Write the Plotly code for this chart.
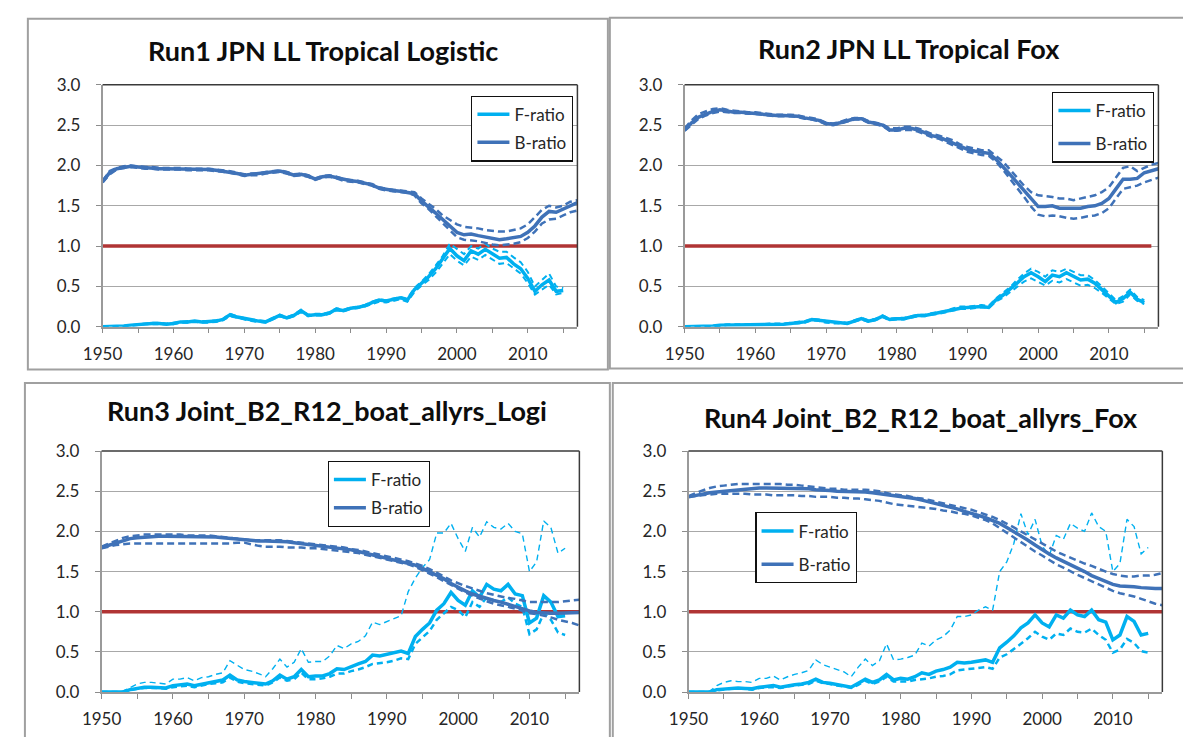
import plotly.graph_objects as go

# ---------------- data ----------------
YEARS_F = list(range(1950, 2016))
YEARS_B = list(range(1950, 2018))
YEARS_REF2 = list(range(1950, 2017))
REF_LEVEL = 1.0

TITLES = ["Run1 JPN LL Tropical Logistic", "Run2 JPN LL Tropical Fox",
          "Run3 Joint_B2_R12_boat_allyrs_Logi", "Run4 Joint_B2_R12_boat_allyrs_Fox"]
X_TICKS = [1950, 1960, 1970, 1980, 1990, 2000, 2010]
Y_TICKS = [0.0, 0.5, 1.0, 1.5, 2.0, 2.5, 3.0]

# ---- Run1 ----
F1_MID = [0.00, 0.00, 0.00, 0.01, 0.02, 0.03, 0.04, 0.04, 0.04, 0.03,
          0.04, 0.06, 0.06, 0.07, 0.06, 0.06, 0.07, 0.09, 0.15, 0.12,
          0.10, 0.08, 0.07, 0.06, 0.10, 0.14, 0.11, 0.14, 0.20, 0.14,
          0.15, 0.15, 0.17, 0.22, 0.20, 0.23, 0.24, 0.26, 0.30, 0.33,
          0.32, 0.34, 0.36, 0.33, 0.46, 0.54, 0.62, 0.72, 0.84, 0.97,
          0.88, 0.82, 0.94, 0.90, 0.96, 0.90, 0.85, 0.86, 0.78, 0.72,
          0.60, 0.44, 0.52, 0.58, 0.44, 0.45]
F1_HI = [0.00, 0.00, 0.00, 0.01, 0.02, 0.03, 0.04, 0.05, 0.05, 0.04,
         0.05, 0.06, 0.07, 0.07, 0.07, 0.07, 0.08, 0.10, 0.16, 0.13,
         0.11, 0.09, 0.08, 0.07, 0.11, 0.15, 0.12, 0.15, 0.21, 0.15,
         0.16, 0.16, 0.18, 0.23, 0.21, 0.24, 0.25, 0.27, 0.31, 0.34,
         0.33, 0.35, 0.37, 0.35, 0.48, 0.56, 0.65, 0.76, 0.88, 1.03,
         0.96, 0.90, 1.00, 0.97, 1.03, 0.97, 0.93, 0.93, 0.86, 0.80,
         0.68, 0.50, 0.58, 0.66, 0.50, 0.48]
F1_LO = [0.00, 0.00, 0.00, 0.00, 0.01, 0.02, 0.03, 0.03, 0.03, 0.03,
         0.03, 0.05, 0.05, 0.06, 0.05, 0.05, 0.06, 0.08, 0.13, 0.11,
         0.09, 0.07, 0.06, 0.05, 0.09, 0.13, 0.10, 0.13, 0.18, 0.13,
         0.14, 0.14, 0.16, 0.20, 0.19, 0.22, 0.23, 0.25, 0.28, 0.31,
         0.30, 0.32, 0.34, 0.31, 0.43, 0.51, 0.58, 0.67, 0.78, 0.90,
         0.82, 0.76, 0.87, 0.83, 0.89, 0.83, 0.78, 0.79, 0.72, 0.66,
         0.54, 0.40, 0.46, 0.52, 0.40, 0.42]
B1_MID = [1.80, 1.91, 1.96, 1.98, 1.99, 1.98, 1.97, 1.97, 1.96, 1.96,
          1.96, 1.96, 1.95, 1.95, 1.95, 1.95, 1.94, 1.93, 1.92, 1.90,
          1.88, 1.89, 1.89, 1.91, 1.92, 1.93, 1.91, 1.88, 1.89, 1.87,
          1.83, 1.86, 1.87, 1.85, 1.82, 1.81, 1.80, 1.78, 1.76, 1.72,
          1.70, 1.69, 1.68, 1.67, 1.65, 1.56, 1.49, 1.41, 1.33, 1.25,
          1.17, 1.14, 1.15, 1.13, 1.11, 1.09, 1.08, 1.09, 1.10, 1.12,
          1.17, 1.25, 1.36, 1.43, 1.42, 1.46, 1.51, 1.54]
B1_HI = [1.81, 1.93, 1.97, 1.99, 2.00, 1.99, 1.98, 1.98, 1.97, 1.97,
         1.97, 1.97, 1.96, 1.96, 1.96, 1.96, 1.95, 1.94, 1.93, 1.91,
         1.89, 1.90, 1.90, 1.92, 1.93, 1.94, 1.92, 1.89, 1.90, 1.88,
         1.84, 1.87, 1.88, 1.86, 1.83, 1.82, 1.81, 1.79, 1.77, 1.73,
         1.71, 1.70, 1.69, 1.68, 1.67, 1.59, 1.53, 1.46, 1.38, 1.32,
         1.27, 1.24, 1.23, 1.22, 1.20, 1.19, 1.18, 1.18, 1.20, 1.22,
         1.27, 1.36, 1.45, 1.50, 1.48, 1.50, 1.55, 1.57]
B1_LO = [1.79, 1.89, 1.95, 1.97, 1.98, 1.97, 1.96, 1.96, 1.95, 1.95,
         1.95, 1.95, 1.94, 1.94, 1.94, 1.94, 1.93, 1.92, 1.91, 1.89,
         1.87, 1.88, 1.88, 1.90, 1.91, 1.92, 1.90, 1.87, 1.88, 1.86,
         1.82, 1.85, 1.86, 1.84, 1.81, 1.80, 1.79, 1.77, 1.75, 1.71,
         1.69, 1.68, 1.67, 1.66, 1.63, 1.53, 1.46, 1.37, 1.28, 1.19,
         1.11, 1.08, 1.07, 1.06, 1.04, 1.02, 1.01, 1.02, 1.03, 1.05,
         1.10, 1.18, 1.28, 1.33, 1.34, 1.38, 1.42, 1.44]

# ---- Run2 ----
F2_MID = [0.00, 0.00, 0.00, 0.00, 0.01, 0.02, 0.02, 0.02, 0.02, 0.02,
          0.02, 0.03, 0.03, 0.03, 0.03, 0.04, 0.05, 0.06, 0.09, 0.08,
          0.06, 0.05, 0.05, 0.04, 0.07, 0.10, 0.07, 0.09, 0.13, 0.09,
          0.10, 0.10, 0.12, 0.14, 0.14, 0.16, 0.17, 0.19, 0.22, 0.23,
          0.24, 0.25, 0.25, 0.24, 0.33, 0.39, 0.46, 0.54, 0.62, 0.67,
          0.62, 0.56, 0.64, 0.62, 0.67, 0.62, 0.58, 0.59, 0.54, 0.46,
          0.38, 0.30, 0.35, 0.43, 0.34, 0.30]
F2_HI = [0.00, 0.00, 0.00, 0.01, 0.01, 0.02, 0.03, 0.03, 0.03, 0.03,
         0.03, 0.03, 0.04, 0.04, 0.04, 0.05, 0.06, 0.07, 0.10, 0.09,
         0.07, 0.06, 0.06, 0.05, 0.08, 0.11, 0.08, 0.10, 0.14, 0.10,
         0.11, 0.11, 0.13, 0.15, 0.15, 0.17, 0.18, 0.20, 0.23, 0.25,
         0.25, 0.26, 0.27, 0.26, 0.35, 0.42, 0.49, 0.58, 0.66, 0.72,
         0.68, 0.62, 0.70, 0.68, 0.72, 0.68, 0.64, 0.64, 0.58, 0.50,
         0.41, 0.33, 0.38, 0.46, 0.37, 0.33]
F2_LO = [0.00, 0.00, 0.00, 0.00, 0.00, 0.01, 0.02, 0.02, 0.02, 0.02,
         0.02, 0.02, 0.03, 0.03, 0.03, 0.04, 0.04, 0.05, 0.08, 0.07,
         0.05, 0.04, 0.04, 0.04, 0.06, 0.09, 0.06, 0.08, 0.12, 0.08,
         0.09, 0.09, 0.11, 0.13, 0.13, 0.15, 0.16, 0.18, 0.20, 0.22,
         0.22, 0.23, 0.24, 0.23, 0.31, 0.36, 0.43, 0.50, 0.56, 0.60,
         0.56, 0.51, 0.57, 0.55, 0.59, 0.55, 0.51, 0.52, 0.48, 0.42,
         0.35, 0.28, 0.31, 0.40, 0.32, 0.28]
B2_MID = [2.44, 2.53, 2.60, 2.64, 2.67, 2.69, 2.67, 2.66, 2.66, 2.65,
          2.65, 2.64, 2.63, 2.62, 2.62, 2.62, 2.61, 2.59, 2.58, 2.56,
          2.52, 2.51, 2.53, 2.56, 2.58, 2.58, 2.54, 2.52, 2.50, 2.44,
          2.44, 2.46, 2.46, 2.44, 2.40, 2.37, 2.35, 2.31, 2.28, 2.23,
          2.20, 2.18, 2.16, 2.15, 2.08, 1.99, 1.89, 1.79, 1.69, 1.59,
          1.49, 1.49, 1.50, 1.47, 1.47, 1.46, 1.47, 1.49, 1.50, 1.53,
          1.59, 1.71, 1.83, 1.83, 1.84, 1.91, 1.94, 1.96]
B2_HI = [2.46, 2.56, 2.64, 2.67, 2.70, 2.71, 2.69, 2.68, 2.67, 2.66,
         2.66, 2.65, 2.64, 2.63, 2.63, 2.63, 2.62, 2.60, 2.59, 2.57,
         2.53, 2.52, 2.54, 2.57, 2.59, 2.59, 2.55, 2.53, 2.51, 2.46,
         2.46, 2.48, 2.48, 2.46, 2.42, 2.39, 2.37, 2.34, 2.31, 2.26,
         2.23, 2.21, 2.19, 2.19, 2.12, 2.05, 1.95, 1.85, 1.75, 1.67,
         1.63, 1.62, 1.61, 1.59, 1.59, 1.57, 1.59, 1.61, 1.63, 1.67,
         1.73, 1.85, 1.97, 1.99, 1.93, 1.97, 2.01, 2.03]
B2_LO = [2.43, 2.51, 2.58, 2.62, 2.65, 2.67, 2.66, 2.65, 2.65, 2.64,
         2.64, 2.63, 2.62, 2.61, 2.61, 2.61, 2.60, 2.58, 2.57, 2.55,
         2.51, 2.50, 2.52, 2.55, 2.57, 2.57, 2.53, 2.51, 2.49, 2.43,
         2.43, 2.44, 2.44, 2.42, 2.38, 2.35, 2.33, 2.29, 2.25, 2.20,
         2.17, 2.15, 2.13, 2.12, 2.05, 1.95, 1.84, 1.73, 1.61, 1.49,
         1.39, 1.37, 1.38, 1.37, 1.35, 1.34, 1.35, 1.37, 1.38, 1.41,
         1.47, 1.59, 1.71, 1.73, 1.75, 1.79, 1.82, 1.85]

# ---- Run3 ----
F3_MID = [0.00, 0.00, 0.00, 0.00, 0.03, 0.05, 0.06, 0.06, 0.06, 0.05,
          0.08, 0.09, 0.10, 0.08, 0.10, 0.12, 0.13, 0.15, 0.21, 0.15,
          0.13, 0.12, 0.11, 0.10, 0.14, 0.21, 0.16, 0.19, 0.28, 0.19,
          0.20, 0.20, 0.23, 0.29, 0.28, 0.32, 0.35, 0.38, 0.46, 0.45,
          0.47, 0.49, 0.51, 0.48, 0.69, 0.78, 0.86, 1.02, 1.10, 1.24,
          1.14, 1.08, 1.26, 1.18, 1.34, 1.28, 1.26, 1.34, 1.22, 1.20,
          0.86, 0.92, 1.20, 1.12, 0.94, 0.95]
F3_HI = [0.00, 0.00, 0.00, 0.01, 0.06, 0.10, 0.12, 0.12, 0.11, 0.10,
         0.16, 0.16, 0.18, 0.14, 0.18, 0.19, 0.22, 0.24, 0.39, 0.33,
         0.28, 0.26, 0.23, 0.19, 0.29, 0.41, 0.31, 0.37, 0.54, 0.37,
         0.38, 0.38, 0.45, 0.58, 0.54, 0.60, 0.63, 0.70, 0.87, 0.84,
         0.88, 0.92, 0.95, 1.25, 1.42, 1.55, 1.65, 1.98, 1.98, 2.10,
         1.91, 1.75, 2.05, 1.93, 2.12, 2.05, 2.03, 2.10, 2.00, 1.97,
         1.50, 1.62, 2.13, 2.05, 1.73, 1.79]
F3_LO = [0.00, 0.00, 0.00, 0.00, 0.02, 0.04, 0.05, 0.05, 0.05, 0.04,
         0.06, 0.07, 0.08, 0.06, 0.08, 0.10, 0.11, 0.12, 0.18, 0.13,
         0.11, 0.10, 0.09, 0.08, 0.12, 0.18, 0.14, 0.16, 0.24, 0.16,
         0.16, 0.17, 0.19, 0.23, 0.23, 0.26, 0.28, 0.31, 0.35, 0.36,
         0.37, 0.39, 0.42, 0.41, 0.60, 0.68, 0.76, 0.90, 0.98, 1.06,
         1.02, 0.93, 1.12, 1.06, 1.18, 1.14, 1.12, 1.18, 1.10, 1.06,
         0.72, 0.78, 0.98, 0.90, 0.74, 0.71]
B3_MID = [1.80, 1.83, 1.86, 1.89, 1.91, 1.92, 1.93, 1.93, 1.94, 1.94,
          1.94, 1.94, 1.94, 1.94, 1.93, 1.93, 1.93, 1.92, 1.91, 1.90,
          1.89, 1.88, 1.88, 1.88, 1.88, 1.88, 1.87, 1.86, 1.85, 1.84,
          1.83, 1.82, 1.81, 1.80, 1.79, 1.77, 1.75, 1.73, 1.71, 1.69,
          1.67, 1.65, 1.63, 1.61, 1.58, 1.54, 1.50, 1.46, 1.41, 1.35,
          1.30, 1.26, 1.22, 1.19, 1.16, 1.14, 1.12, 1.09, 1.06, 1.03,
          1.01, 0.99, 0.98, 0.98, 0.98, 0.98, 0.99, 0.99]
B3_HI = [1.81, 1.85, 1.89, 1.92, 1.94, 1.95, 1.96, 1.96, 1.96, 1.96,
         1.96, 1.96, 1.95, 1.95, 1.95, 1.95, 1.94, 1.93, 1.92, 1.91,
         1.90, 1.89, 1.89, 1.89, 1.89, 1.89, 1.88, 1.87, 1.86, 1.85,
         1.84, 1.83, 1.82, 1.81, 1.80, 1.78, 1.77, 1.75, 1.73, 1.71,
         1.69, 1.67, 1.65, 1.63, 1.60, 1.57, 1.53, 1.49, 1.44, 1.39,
         1.35, 1.32, 1.29, 1.26, 1.23, 1.21, 1.19, 1.17, 1.16, 1.14,
         1.12, 1.12, 1.12, 1.12, 1.12, 1.13, 1.14, 1.15]
B3_LO = [1.79, 1.81, 1.83, 1.84, 1.85, 1.85, 1.85, 1.85, 1.85, 1.85,
         1.85, 1.85, 1.85, 1.85, 1.85, 1.85, 1.85, 1.85, 1.85, 1.86,
         1.86, 1.84, 1.82, 1.81, 1.81, 1.81, 1.80, 1.80, 1.80, 1.79,
         1.79, 1.78, 1.77, 1.76, 1.75, 1.74, 1.73, 1.71, 1.69, 1.67,
         1.65, 1.63, 1.61, 1.59, 1.56, 1.52, 1.48, 1.43, 1.38, 1.33,
         1.28, 1.24, 1.20, 1.16, 1.13, 1.10, 1.08, 1.06, 1.04, 1.01,
         0.98, 0.97, 0.95, 0.93, 0.90, 0.88, 0.86, 0.83]

# ---- Run4 ----
F4_MID = [0.00, 0.00, 0.00, 0.00, 0.03, 0.04, 0.05, 0.05, 0.045, 0.04,
          0.06, 0.07, 0.08, 0.06, 0.08, 0.09, 0.10, 0.12, 0.16, 0.12,
          0.11, 0.09, 0.08, 0.06, 0.11, 0.16, 0.12, 0.15, 0.22, 0.15,
          0.17, 0.16, 0.19, 0.24, 0.22, 0.26, 0.28, 0.31, 0.37, 0.36,
          0.37, 0.39, 0.40, 0.37, 0.55, 0.62, 0.70, 0.80, 0.86, 0.96,
          0.86, 0.81, 0.96, 0.92, 1.02, 0.96, 0.94, 1.02, 0.90, 0.87,
          0.65, 0.71, 0.94, 0.88, 0.71, 0.73]
F4_HI = [0.00, 0.00, 0.00, 0.01, 0.08, 0.12, 0.14, 0.13, 0.13, 0.12,
         0.17, 0.17, 0.20, 0.15, 0.19, 0.22, 0.24, 0.27, 0.40, 0.34,
         0.31, 0.28, 0.25, 0.19, 0.31, 0.41, 0.33, 0.39, 0.60, 0.40,
         0.41, 0.43, 0.46, 0.61, 0.57, 0.65, 0.69, 0.77, 0.94, 0.94,
         0.96, 1.02, 1.06, 1.02, 1.50, 1.62, 1.85, 2.22, 1.96, 2.15,
         1.82, 1.70, 1.95, 1.90, 2.10, 2.04, 2.00, 2.23, 2.06, 2.00,
         1.50, 1.60, 2.15, 2.06, 1.72, 1.80]
F4_LO = [0.00, 0.00, 0.00, 0.00, 0.02, 0.03, 0.04, 0.04, 0.04, 0.03,
         0.05, 0.06, 0.06, 0.05, 0.07, 0.08, 0.09, 0.10, 0.14, 0.11,
         0.10, 0.08, 0.07, 0.05, 0.09, 0.14, 0.10, 0.13, 0.19, 0.13,
         0.13, 0.13, 0.15, 0.16, 0.17, 0.19, 0.20, 0.22, 0.27, 0.28,
         0.29, 0.30, 0.31, 0.29, 0.43, 0.47, 0.53, 0.60, 0.67, 0.75,
         0.69, 0.65, 0.73, 0.71, 0.79, 0.75, 0.74, 0.79, 0.71, 0.65,
         0.49, 0.53, 0.66, 0.61, 0.51, 0.49]
B4_MID = [2.43, 2.45, 2.47, 2.48, 2.49, 2.50, 2.51, 2.52, 2.53, 2.53,
          2.54, 2.54, 2.54, 2.54, 2.54, 2.54, 2.53, 2.53, 2.52, 2.52,
          2.51, 2.50, 2.50, 2.50, 2.49, 2.49, 2.48, 2.47, 2.46, 2.45,
          2.44, 2.42, 2.41, 2.39, 2.37, 2.35, 2.33, 2.30, 2.28, 2.25,
          2.23, 2.20, 2.17, 2.14, 2.10, 2.05, 2.00, 1.95, 1.89, 1.83,
          1.77, 1.72, 1.67, 1.63, 1.58, 1.54, 1.50, 1.45, 1.41, 1.37,
          1.34, 1.32, 1.32, 1.31, 1.30, 1.29, 1.29, 1.29]
B4_HI = [2.44, 2.48, 2.51, 2.54, 2.56, 2.57, 2.58, 2.59, 2.59, 2.59,
         2.59, 2.59, 2.59, 2.59, 2.58, 2.58, 2.57, 2.56, 2.55, 2.54,
         2.53, 2.53, 2.52, 2.52, 2.52, 2.52, 2.51, 2.50, 2.48, 2.46,
         2.45, 2.44, 2.42, 2.41, 2.39, 2.37, 2.35, 2.33, 2.31, 2.29,
         2.27, 2.24, 2.21, 2.18, 2.14, 2.10, 2.05, 2.00, 1.95, 1.89,
         1.84, 1.79, 1.75, 1.71, 1.67, 1.64, 1.60, 1.57, 1.53, 1.50,
         1.47, 1.45, 1.44, 1.44, 1.45, 1.45, 1.46, 1.48]
B4_LO = [2.43, 2.44, 2.45, 2.46, 2.47, 2.47, 2.47, 2.47, 2.47, 2.46,
         2.46, 2.46, 2.45, 2.45, 2.45, 2.45, 2.44, 2.44, 2.43, 2.43,
         2.43, 2.42, 2.42, 2.41, 2.41, 2.40, 2.39, 2.38, 2.36, 2.34,
         2.33, 2.32, 2.31, 2.30, 2.29, 2.28, 2.26, 2.25, 2.23, 2.22,
         2.20, 2.17, 2.14, 2.10, 2.04, 1.98, 1.92, 1.86, 1.80, 1.75,
         1.70, 1.64, 1.59, 1.55, 1.50, 1.46, 1.42, 1.38, 1.33, 1.29,
         1.26, 1.23, 1.21, 1.19, 1.16, 1.13, 1.10, 1.08]

F_MID = [F1_MID, F2_MID, F3_MID, F4_MID]
F_HI = [F1_HI, F2_HI, F3_HI, F4_HI]
F_LO = [F1_LO, F2_LO, F3_LO, F4_LO]
B_MID = [B1_MID, B2_MID, B3_MID, B4_MID]
B_HI = [B1_HI, B2_HI, B3_HI, B4_HI]
B_LO = [B1_LO, B2_LO, B3_LO, B4_LO]
REF_YEARS = [YEARS_B, YEARS_REF2, YEARS_B, YEARS_B]

# ---------------- styling / layout ----------------
W, H = 1183, 737
F_COL = "#00B0F0"
B_COL = "#3F72B8"
R_COL = "#B03434"
FONT = "Lato"

# plot-area pixel boxes (left, right, top, bottom)
PLOT_PX = [(84, 567, 76, 325), (676, 1158, 76, 325),
           (83, 569, 453, 701), (680, 1162, 453, 701)]
TITLE_PX = [(308, 41), (904, 39), (312, 411), (917, 418)]
LEGEND_PX = [(459, 87, 3), (1050, 83, 8), (313, 463, 3), (748, 516, 8)]
FRAME_PX = [(8, 598, 8, 369), (600, 1200, 7, 368),
            (5, 600, 383, 760), (603, 1200, 383, 760)]
F_HI_W = [2.0, 2.0, 1.4, 1.4]
F_LO_W = [2.0, 2.0, 2.5, 2.5]

fig = go.Figure()
layout = dict(width=W, height=H, margin=dict(l=0, r=0, t=0, b=0),
              paper_bgcolor="white", plot_bgcolor="white",
              font=dict(family=FONT, color="#262626"),
              shapes=[], annotations=[])

for i in range(4):
    n = i + 1
    xs = "x" if n == 1 else f"x{n}"
    ys = "y" if n == 1 else f"y{n}"
    lg = "legend" if n == 1 else f"legend{n}"
    common = dict(xaxis=xs, yaxis=ys, mode="lines", hoverinfo="skip")

    fig.add_trace(go.Scatter(x=REF_YEARS[i], y=[REF_LEVEL] * len(REF_YEARS[i]),
                             line=dict(color=R_COL, width=3.5), showlegend=False, **common))
    fig.add_trace(go.Scatter(x=YEARS_F, y=F_LO[i], line=dict(color=F_COL, width=F_LO_W[i], dash="6px,4px"),
                             showlegend=False, **common))
    fig.add_trace(go.Scatter(x=YEARS_F, y=F_HI[i], line=dict(color=F_COL, width=F_HI_W[i], dash="6px,4px"),
                             showlegend=False, **common))
    fig.add_trace(go.Scatter(x=YEARS_F, y=F_MID[i], name="F-ratio", legend=lg, legendgroup=f"f{n}",
                             line=dict(color=F_COL, width=3.5), **common))
    fig.add_trace(go.Scatter(x=YEARS_B, y=B_LO[i], line=dict(color=B_COL, width=2.5, dash="7px,4px"),
                             showlegend=False, **common))
    fig.add_trace(go.Scatter(x=YEARS_B, y=B_HI[i], line=dict(color=B_COL, width=2.5, dash="7px,4px"),
                             showlegend=False, **common))
    fig.add_trace(go.Scatter(x=YEARS_B, y=B_MID[i], name="B-ratio", legend=lg, legendgroup=f"b{n}",
                             line=dict(color=B_COL, width=3.5), **common))

    l, r, t, b = PLOT_PX[i]
    xa = "xaxis" if n == 1 else f"xaxis{n}"
    ya = "yaxis" if n == 1 else f"yaxis{n}"
    layout[xa] = dict(domain=[l / W, r / W], anchor=ys, range=[1950, 2017],
                      tickmode="array", tickvals=X_TICKS, ticktext=[str(v) for v in X_TICKS],
                      ticks="outside", ticklen=5, tickwidth=1.2, tickcolor="#8C8C8C",
                      minor=dict(tickmode="linear", tick0=1950, dtick=5, ticks="outside",
                                 ticklen=5, tickwidth=1.2, tickcolor="#8C8C8C", showgrid=False),
                      showline=True, linecolor="#9A9A9A", linewidth=1.5,
                      showgrid=False, zeroline=False, ticklabelstandoff=6,
                      tickfont=dict(family=FONT, size=17, color="#262626"), fixedrange=True)
    layout[ya] = dict(domain=[1 - b / H, 1 - t / H], anchor=xs, range=[0, 3],
                      tickmode="array", tickvals=Y_TICKS, ticktext=[f"{v:.1f}" for v in Y_TICKS],
                      ticks="outside", ticklen=5, tickwidth=1.2, tickcolor="#8C8C8C",
                      showline=True, linecolor="#9A9A9A", linewidth=1.5,
                      showgrid=True, gridcolor="#A8A8A8", gridwidth=1.3,
                      zeroline=False, ticklabelstandoff=12,
                      tickfont=dict(family=FONT, size=17, color="#262626"), fixedrange=True)

    # plot-area border (top and right)
    layout["shapes"].append(dict(type="line", xref=f"{xs} domain", yref=f"{ys} domain",
                                 x0=0, x1=1, y0=1, y1=1, line=dict(color="#3A3A3A", width=1.5)))
    layout["shapes"].append(dict(type="line", xref=f"{xs} domain", yref=f"{ys} domain",
                                 x0=1, x1=1, y0=0, y1=1, line=dict(color="#3A3A3A", width=1.5)))
    # chart-area frame
    fl, fr, ft, fb = FRAME_PX[i]
    layout["shapes"].append(dict(type="rect", xref="paper", yref="paper",
                                 x0=fl / W, x1=fr / W, y0=1 - fb / H, y1=1 - ft / H,
                                 line=dict(color="#A0A0A0", width=2), layer="below"))
    # title
    tx, ty = TITLE_PX[i]
    layout["annotations"].append(dict(text=TITLES[i], xref="paper", yref="paper",
                                      x=tx / W, y=1 - ty / H, xanchor="center", yanchor="middle",
                                      showarrow=False,
                                      font=dict(family=FONT, size=27, color="#0D0D0D", weight="bold")))
    # legend
    lx, ly, gap = LEGEND_PX[i]
    layout[lg] = dict(x=lx / W, y=1 - ly / H, xanchor="left", yanchor="top",
                      bgcolor="white", bordercolor="#111111", borderwidth=1.2,
                      font=dict(family=FONT, size=17, color="#262626"),
                      traceorder="grouped", tracegroupgap=gap, itemwidth=32)

fig.update_layout(**layout)
fig.write_html("out.html")
